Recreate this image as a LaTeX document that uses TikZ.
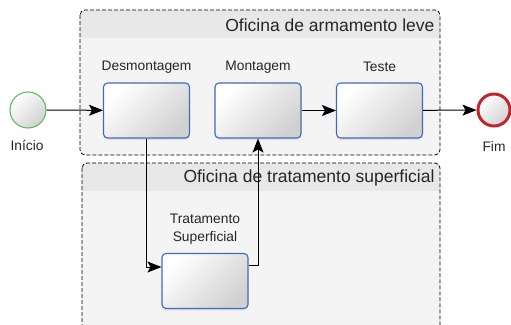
\documentclass[tikz,border=0pt]{standalone}
\usepackage{fontspec}
\setmainfont{Liberation Sans}
\usetikzlibrary{arrows.meta,shadows}

\definecolor{taskblue}{HTML}{4169C0}
\definecolor{startgreen}{HTML}{5CBF5C}
\definecolor{endred}{HTML}{C0262C}
\definecolor{lanefill}{HTML}{F4F4F4}
\definecolor{headfill}{HTML}{E8E8E8}
\definecolor{textgray}{HTML}{262626}

\begin{document}
\begin{tikzpicture}
        [x=1pt, y=-1pt,
        lane/.style={draw, dash pattern=on 4pt off 2pt, line width=0.8pt, rounded corners=5pt},
        lanetitle/.style={anchor=east, text=textgray, font=\fontsize{17.5}{18}\selectfont},
        task/.style={draw=taskblue, line width=1.1pt, rounded corners=4pt,
            minimum width=86pt, minimum height=55pt,
            top color=white, bottom color=black!18, shading angle=45,
            drop shadow={shadow xshift=0pt, shadow yshift=-2pt, opacity=0.15}},
        label/.style={text=textgray, font=\fontsize{13.8}{18}\selectfont, align=center},
        event/.style={circle, minimum size=36pt, inner sep=0pt,
            top color=white, bottom color=black!18, shading angle=45},
        flow/.style={line width=1pt, -{Stealth[length=14pt, width=11pt, inset=3pt]}}]

        \useasboundingbox (0,0) rectangle (511,324);

        % lanes
        \fill[lanefill, rounded corners=5pt] (80,10) rectangle (440,155);
        \begin{scope}
            \clip[rounded corners=5pt] (80,10) rectangle (440,155);
            \fill[headfill] (80,10) rectangle (440,38);
        \end{scope}
        \draw[lane] (80,10) rectangle (440,155);
        \node[lanetitle] (armtitle) at (438,25) {Oficina de armamento leve};

        \fill[lanefill, rounded corners=5pt] (82,163) rectangle (440,340);
        \begin{scope}
            \clip[rounded corners=5pt] (82,163) rectangle (440,340);
            \fill[headfill] (82,163) rectangle (440,191);
        \end{scope}
        \draw[lane] (82,163) rectangle (440,340);
        \node[lanetitle] (trattitle) at (438,178) {Oficina de tratamento superficial};

        % events
        \node[event, draw=startgreen, line width=1.1pt] (inicio) at (28,110) {};
        \node[event, draw=endred, line width=3pt, minimum size=32pt] (fim) at (494,110) {};
        \node[label] (inicioname) at (27,145) {Início};
        \node[label] (fimname) at (494,146) {Fim};

        % tasks
        \node[task] (desm) at (146.5,110.5) {};
        \node[task] (mont) at (258,110.5) {};
        \node[task] (teste) at (379.5,110.5) {};
        \node[task] (trat) at (205,281) {};
        \node[label] (desmname) at (146.5,67) {Desmontagem};
        \node[label] (montname) at (258,67) {Montagem};
        \node[label] (testename) at (379.5,67) {Teste};
        \node[label] (tratname) at (205,229) {Tratamento\\Superficial};

        % flows
        \draw[flow] (inicio) -- (desm);
        \draw[flow] (desm.south) |- ([yshift=14pt]trat.west);
        \draw[flow] ([yshift=16pt]trat.east) -| (mont.south);
        \draw[flow] (mont) -- (teste);
        \draw[flow] (teste) -- (fim);

\end{tikzpicture}
\end{document}
